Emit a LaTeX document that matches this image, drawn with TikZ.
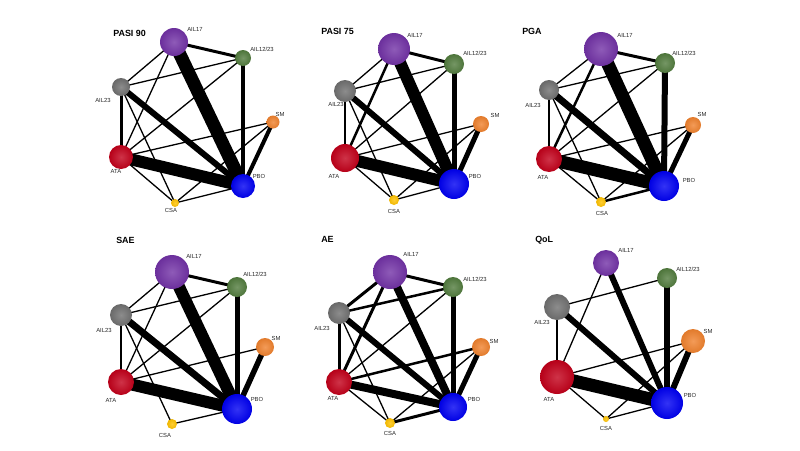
\documentclass[tikz,border=0pt]{standalone}
\usepackage{fontspec}
\setmainfont{Liberation Sans}
\usepackage{xcolor}
\usepackage{tikz}
\usetikzlibrary{backgrounds}
\definecolor{cA17}{HTML}{7232A6}
\definecolor{cA1223}{HTML}{527C3E}
\definecolor{cA23}{HTML}{707070}
\definecolor{cSM}{HTML}{F0822E}
\definecolor{cATA}{HTML}{C2001A}
\definecolor{cPBO}{HTML}{0000F2}
\definecolor{cCSA}{HTML}{FFC200}
\definecolor{Ink}{HTML}{000000}
\definecolor{Txt}{HTML}{262626}

\begin{document}
\begin{tikzpicture}[x=0.75pt,y=-0.75pt,
  trt/.style 2 args={circle,inner sep=0pt,minimum size=#1*1.5pt,
    inner color=#2!80!white,outer color=#2!94!black},
  lbl/.style={font=\fontsize{4.4}{5}\selectfont,Txt,inner sep=0pt},
  ttl/.style={font=\fontsize{6.7}{8}\selectfont\bfseries,anchor=west,inner sep=0pt},
  edge/.style={Ink,line cap=butt,line width=#1*0.75pt},edge/.default=1]
  \useasboundingbox (0,0) rectangle (800,450);
  % PASI 90
  \node[ttl] (p1t) at (113,33) {PASI 90};
  \foreach \n/\x/\y/\r/\lx/\ly/\t in {
    A17/174/42/14/195/29/AIL17, A1223/243/58/8/262/49/{AIL12/23},
    A23/121/87/9/103/100/AIL23, SM/273/122/6.5/280/114/SM,
    ATA/121/157/12/116/171/ATA, PBO/243/186/12/259/176/PBO,
    CSA/175/203/4/171/210/CSA} {
    \node[trt={\r}{c\n}] (p1\n) at (\x,\y) {};
    \node[lbl] (p1\n-l) at (\lx,\ly) {\t};
  }
  \begin{scope}[on background layer]
    \foreach \a/\b/\w in {
      A17/PBO/13, ATA/PBO/12, A23/PBO/6, A1223/PBO/4.5, SM/PBO/4, A17/A1223/3,
      A23/ATA/3, A17/A23/1.3, A17/ATA/1.3, A23/A1223/1.3, ATA/A1223/1.3, A23/CSA/1.3,
      ATA/SM/1.3, ATA/CSA/1.3, CSA/PBO/1.3, CSA/SM/1.3}
      \draw[edge=\w] (p1\a.center) -- (p1\b.center);
  \end{scope}
  % PASI 75
  \node[ttl] (p2t) at (321,31) {PASI 75};
  \foreach \n/\x/\y/\r/\lx/\ly/\t in {
    A17/394/49/16/415/35/AIL17, A1223/454/64/10/475/53/{AIL12/23},
    A23/345/91/11/336/104/AIL23, SM/481/124/8/495/115/SM,
    ATA/345/158/14/334/176/ATA, PBO/454/184/15/475/176/PBO,
    CSA/394/200/5/394/211/CSA} {
    \node[trt={\r}{c\n}] (p2\n) at (\x,\y) {};
    \node[lbl] (p2\n-l) at (\lx,\ly) {\t};
  }
  \begin{scope}[on background layer]
    \foreach \a/\b/\w in {
      A17/PBO/12, ATA/PBO/12, A23/PBO/6, A1223/PBO/5, SM/PBO/5, A17/A1223/3,
      A23/ATA/2.5, A17/ATA/2.5, A17/A23/1.3, A23/A1223/1.3, ATA/A1223/1.3, A23/CSA/1.3,
      ATA/SM/1.3, ATA/CSA/1.3, CSA/PBO/1.3, CSA/SM/1.3}
      \draw[edge=\w] (p2\a.center) -- (p2\b.center);
  \end{scope}
  % PGA
  \node[ttl] (p3t) at (522,31) {PGA};
  \foreach \n/\x/\y/\r/\lx/\ly/\t in {
    A17/601/49/17/625/35/AIL17, A1223/665/63/10/684/53/{AIL12/23},
    A23/549/90/10/533/105/AIL23, SM/693/125/8/702/114/SM,
    ATA/549/159/13/543/177/ATA, PBO/664/186/15/689/180/PBO,
    CSA/601/202/5/602/213/CSA} {
    \node[trt={\r}{c\n}] (p3\n) at (\x,\y) {};
    \node[lbl] (p3\n-l) at (\lx,\ly) {\t};
  }
  \begin{scope}[on background layer]
    \foreach \a/\b/\w in {
      A17/PBO/13, ATA/PBO/13, A23/PBO/7, A1223/PBO/6, SM/PBO/5, A17/A1223/3,
      A23/ATA/2.5, A17/ATA/2.5, A17/A23/1.3, A23/A1223/1.3, ATA/A1223/1.3, A23/CSA/1.3,
      ATA/SM/1.3, ATA/CSA/1.3, CSA/PBO/2.5, CSA/SM/1.3}
      \draw[edge=\w] (p3\a.center) -- (p3\b.center);
  \end{scope}
  % SAE
  \node[ttl] (p4t) at (116,240) {SAE};
  \foreach \n/\x/\y/\r/\lx/\ly/\t in {
    A17/172/272/17/194/256/AIL17, A1223/237/287/10/255/274/{AIL12/23},
    A23/121/315/11/104/330/AIL23, SM/265/347/9/276/338/SM,
    ATA/121/382/13/111/400/ATA, PBO/237/409/15/257/399/PBO,
    CSA/172/424/5/165/435/CSA} {
    \node[trt={\r}{c\n}] (p4\n) at (\x,\y) {};
    \node[lbl] (p4\n-l) at (\lx,\ly) {\t};
  }
  \begin{scope}[on background layer]
    \foreach \a/\b/\w in {
      A17/PBO/12, ATA/PBO/12, A23/PBO/7, A1223/PBO/5, SM/PBO/5.5, A17/A1223/3,
      A23/ATA/2.5, A17/A23/1.3, A17/ATA/1.3, A23/A1223/1.3, ATA/A1223/1.3, A23/CSA/1.3,
      ATA/SM/1.3, CSA/PBO/1.3}
      \draw[edge=\w] (p4\a.center) -- (p4\b.center);
  \end{scope}
  % AE
  \node[ttl] (p5t) at (321,239) {AE};
  \foreach \n/\x/\y/\r/\lx/\ly/\t in {
    A17/390/272/17/411/254/AIL17, A1223/453/287/10/475/279/{AIL12/23},
    A23/339/313/11/322/328/AIL23, SM/481/347/9/494/341/SM,
    ATA/339/382/13/333/398/ATA, PBO/453/407/14/474/399/PBO,
    CSA/390/423/5/390/433/CSA} {
    \node[trt={\r}{c\n}] (p5\n) at (\x,\y) {};
    \node[lbl] (p5\n-l) at (\lx,\ly) {\t};
  }
  \begin{scope}[on background layer]
    \foreach \a/\b/\w in {
      A17/PBO/8, ATA/PBO/8, A23/PBO/6, A1223/PBO/5, SM/PBO/5, A17/A1223/3,
      A23/ATA/3, A17/A23/3, A17/ATA/3, A23/A1223/2.5, ATA/A1223/1.3, A23/CSA/1.3,
      ATA/SM/2.5, ATA/CSA/1.3, CSA/PBO/3, CSA/SM/1.3}
      \draw[edge=\w] (p5\a.center) -- (p5\b.center);
  \end{scope}
  % QoL
  \node[ttl] (p6t) at (535,240) {QoL};
  \foreach \n/\x/\y/\r/\lx/\ly/\t in {
    A17/606/263/13/626/250/AIL17, A1223/667/278/10/688/269/{AIL12/23},
    A23/557/307/13/542/322/AIL23, SM/693/341/12/708/331/SM,
    ATA/557/377/17/549/399/ATA, PBO/667/403/16/690/395/PBO,
    CSA/606/419/3/606/428/CSA} {
    \node[trt={\r}{c\n}] (p6\n) at (\x,\y) {};
    \node[lbl] (p6\n-l) at (\lx,\ly) {\t};
  }
  \begin{scope}[on background layer]
    \foreach \a/\b/\w in {
      A17/PBO/6, A1223/PBO/6, A23/PBO/6, SM/PBO/6, ATA/PBO/13, A23/ATA/2.5,
      A17/ATA/1.3, A1223/A23/1.3, SM/ATA/1.3, SM/CSA/1.3, ATA/CSA/1.3, CSA/PBO/1.3}
      \draw[edge=\w] (p6\a.center) -- (p6\b.center);
  \end{scope}
\end{tikzpicture}
\end{document}
